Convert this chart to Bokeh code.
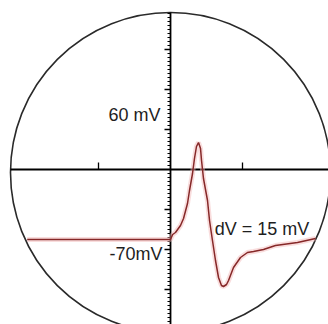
from bokeh.plotting import figure
from bokeh.models import Range1d
from bokeh.core.properties import value
from bokeh.embed import file_html
from bokeh.resources import INLINE

# Membrane potential trace: time (ms) vs voltage (mV)
time_ms = [-1.99, 0.0, 0.03, 0.069, 0.139, 0.181, 0.236, 0.264, 0.306, 0.333,
           0.361, 0.389, 0.417, 0.431, 0.458, 0.514, 0.542, 0.583, 0.625, 0.667,
           0.708, 0.736, 0.778, 0.806, 0.875, 0.972, 1.069, 1.153, 1.292, 1.458,
           1.764, 2.014]
volt_mv = [-70, -70, -65, -63, -56, -49, -34, -21, -4, 11,
           23, 27, 21, 9, -9, -31, -51, -71, -91, -108,
           -116, -117, -115, -111, -98, -88, -83, -82, -80, -76,
           -73, -69]

# Scope graticule
x_major_ticks = [-1.0, 1.0]
y_major_ticks = [-120, -80, -40, 40, 80, 120]
y_minor_ticks = [v for v in range(-152, 157, 4) if v % 40 != 0]

labels_text = ["60 mV", "-70mV", "dV = 15 mV"]
labels_x = [-0.14, -0.11, 0.615]
labels_y = [55, -84, -59]
labels_align = ["right", "right", "left"]

PX_PER_MS = 72.0  # horizontal scale: pixels per ms
W, H = 328, 324
CX, CY = 170, 169  # screen position of the origin

p = figure(width=W, height=H, output_backend="svg", toolbar_location=None,
           x_range=Range1d(-CX / PX_PER_MS, (W - CX) / PX_PER_MS),
           y_range=Range1d(-(H - CY), CY),
           min_border=0)
p.axis.visible = False
p.grid.visible = False
p.outline_line_color = None
p.background_fill_color = "white"
p.border_fill_color = "white"

# Scope face
p.circle(x=[0], y=[-3], radius=160, radius_units="screen",
         fill_color=None, line_color="#2a2a2a", line_width=1.6)

# Crosshair
p.segment(x0=[-160 / PX_PER_MS], y0=[0], x1=[(W - CX) / PX_PER_MS], y1=[0],
          line_color="black", line_width=1.8)
p.segment(x0=[0], y0=[157], x1=[0], y1=[-(H - CY)],
          line_color="black", line_width=1.8)

# Ticks
p.segment(x0=x_major_ticks, y0=[0] * len(x_major_ticks),
          x1=x_major_ticks, y1=[7] * len(x_major_ticks),
          line_color="black", line_width=1.3)
p.segment(x0=[-6 / PX_PER_MS] * len(y_major_ticks), y0=y_major_ticks,
          x1=[0] * len(y_major_ticks), y1=y_major_ticks,
          line_color="black", line_width=1.3)
p.segment(x0=[-3 / PX_PER_MS] * len(y_minor_ticks), y0=y_minor_ticks,
          x1=[0] * len(y_minor_ticks), y1=y_minor_ticks,
          line_color="black", line_width=1.1)

# Trace with phosphor glow
p.line(time_ms, volt_mv, line_color="#f2b4b4", line_width=5, line_alpha=0.45)
p.line(time_ms, volt_mv, line_color="#862828", line_width=1.5)

for txt, x, y, al in zip(labels_text, labels_x, labels_y, labels_align):
    p.text(x=[x], y=[y], text=[txt], text_align=al, text_baseline="middle",
           text_font=value("Liberation Sans"), text_font_size="18px",
           text_color="#1e1e1e")

open("out.html", "w").write(file_html(p, INLINE))
